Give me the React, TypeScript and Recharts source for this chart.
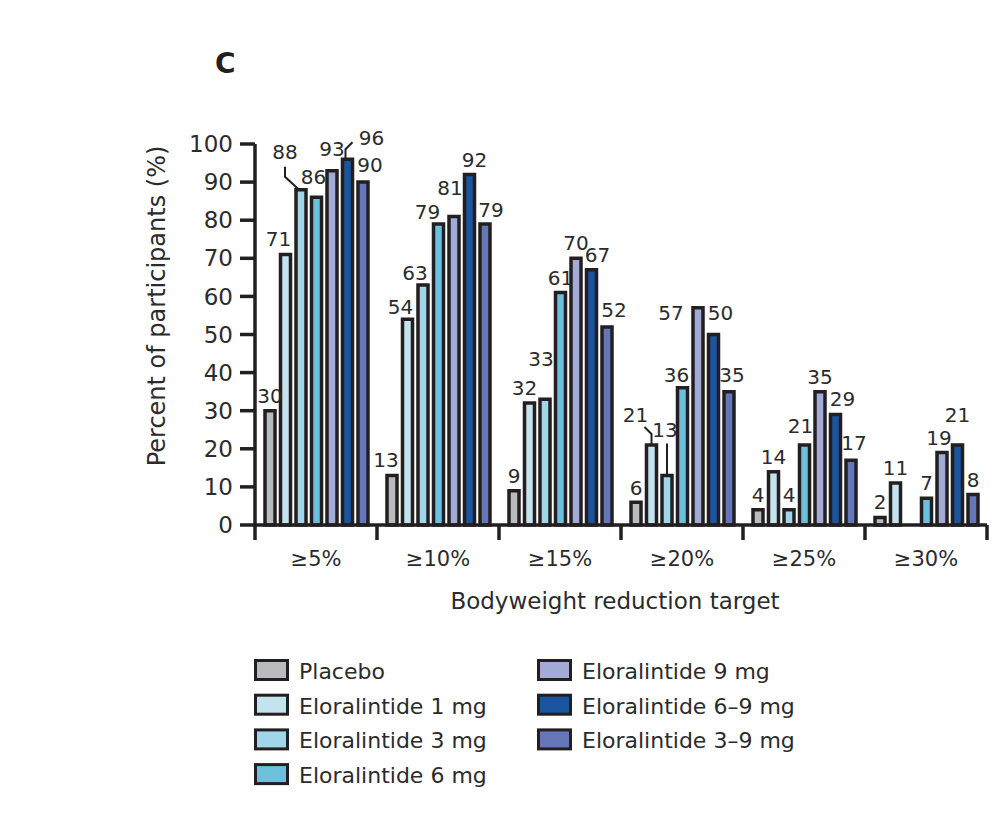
import React from 'react';
import { BarChart, Bar, XAxis, YAxis, LabelList } from 'recharts';

const categories = ['≥5%', '≥10%', '≥15%', '≥20%', '≥25%', '≥30%'];
const placebo = [30, 13, 9, 6, 4, 2];
const elo1 = [71, 54, 32, 21, 14, 11];
const elo3 = [88, 63, 33, 13, 4, 0];
const elo6 = [86, 79, 61, 36, 21, 7];
const elo9 = [93, 81, 70, 57, 35, 19];
const elo69 = [96, 92, 67, 50, 29, 21];
const elo39 = [90, 79, 52, 35, 17, 8];
const yTicks = [0, 10, 20, 30, 40, 50, 60, 70, 80, 90, 100];

const seriesKeys = ['placebo', 'elo1', 'elo3', 'elo6', 'elo9', 'elo69', 'elo39'];
const seriesNames = [
  'Placebo',
  'Eloralintide 1 mg',
  'Eloralintide 3 mg',
  'Eloralintide 6 mg',
  'Eloralintide 9 mg',
  'Eloralintide 6–9 mg',
  'Eloralintide 3–9 mg',
];
const seriesColors = ['#b9bcbf', '#c3e3ef', '#a1d6e8', '#6cc0dc', '#a2aad6', '#1a55a0', '#6677b9'];
const seriesValues = [placebo, elo1, elo3, elo6, elo9, elo69, elo39];

const data = categories.map((c, i) => {
  const row: any = { cat: c };
  seriesKeys.forEach((k, s) => {
    row[k] = seriesValues[s][i];
  });
  return row;
});

const FONT = "'DejaVu Sans', sans-serif";
const INK = '#231f20';
const TEXT = '#2b2b2b';

const CHART_W = 990;
const MARGIN = { top: 136, right: 11, bottom: 0, left: 0 };
const YAXIS_W = 247;
const XAXIS_H = 90;
const PLOT_H = 381;
const CHART_H = MARGIN.top + PLOT_H + XAXIS_H;
const PLOT_W = CHART_W - MARGIN.left - MARGIN.right - YAXIS_W;
const BAND = PLOT_W / categories.length;

// hand-placed label nudges (label layout only)
type Nudge = { dx?: number; dy?: number; leader?: string };
const nudges: Record<string, Nudge> = {
  'elo1-0': { dx: -7 },
  'elo3-0': { dx: -16, dy: -26, leader: 'bendLeft' },
  'elo6-0': { dx: -3, dy: -8 },
  'elo9-0': { dy: -10 },
  'elo69-0': { dx: 24, dy: -9, leader: 'hookRight' },
  'elo39-0': { dx: 7, dy: -5 },
  'placebo-1': { dx: -6 },
  'elo1-1': { dx: -7, dy: 0 },
  'elo3-1': { dx: -8, dy: 0 },
  'elo6-1': { dx: -11, dy: 0 },
  'elo9-1': { dx: -4, dy: -16 },
  'elo69-1': { dx: 5, dy: -2 },
  'elo39-1': { dx: 6, dy: -2 },
  'elo1-2': { dx: -5 },
  'elo3-2': { dx: -4, dy: -28 },
  'elo69-2': { dx: 6 },
  'elo39-2': { dx: 7, dy: -5 },
  'placebo-3': { dy: -2 },
  'elo1-3': { dx: -16, dy: -18, leader: 'hookLeft' },
  'elo3-3': { dx: -2, dy: -33, leader: 'vertical' },
  'elo6-3': { dx: -6, dy: -1 },
  'elo9-3': { dx: -27, dy: 17 },
  'elo69-3': { dx: 7, dy: -10 },
  'elo39-3': { dx: 3, dy: -5 },
  'elo6-4': { dx: -4, dy: -7 },
  'elo69-4': { dx: 7, dy: -4 },
  'elo39-4': { dx: 3, dy: -5 },
  'elo9-5': { dx: -3 },
  'elo69-5': { dy: -18 },
};

const makeLabel = (key: string) => (props: any) => {
  const { x, y, width, value, index } = props;
  const cx = Number(x) + Number(width) / 2;
  const top = Number(y);
  const n = nudges[`${key}-${index}`] || {};
  const lx = cx + (n.dx || 0);
  const ly = top - 5 + (n.dy !== undefined ? n.dy : -3);
  let path = '';
  if (n.leader === 'bendLeft') path = `M${cx - 3},${top - 1} L${lx},${top - 13} L${lx},${ly + 8}`;
  if (n.leader === 'hookRight') path = `M${cx - 2},${top - 1} L${cx - 2},${top - 10} L${cx + 5},${top - 17}`;
  if (n.leader === 'hookLeft') path = `M${cx},${top - 1} L${cx},${top - 11} L${cx - 7},${top - 18}`;
  if (n.leader === 'vertical') path = `M${cx},${top - 1} L${cx},${ly + 6}`;
  return (
    <g>
      {path && <path d={path} stroke={INK} strokeWidth={2} fill="none" />}
      <text x={lx} y={ly} textAnchor="middle" fontFamily={FONT} fontSize={20} fill={TEXT}>
        {value}
      </text>
    </g>
  );
};

const XTick = (props: any) => {
  const { x, y, payload, index } = props;
  const left = x - BAND / 2;
  const right = x + BAND / 2;
  return (
    <g>
      <line x1={left} y1={y} x2={left} y2={y + 15} stroke={INK} strokeWidth={3.5} />
      {index === categories.length - 1 && (
        <line x1={right} y1={y} x2={right} y2={y + 15} stroke={INK} strokeWidth={3.5} />
      )}
      <text x={x} y={y + 41} textAnchor="middle" fontFamily={FONT} fontSize={21} fill={TEXT}>
        {payload.value}
      </text>
    </g>
  );
};

const legendCols = [
  [0, 1, 2, 3],
  [4, 5, 6],
];
const legendColX = [246, 529];
const ROW_Y0 = 651;
const ROW_STEP = 34.7;

export default function App() {
  return (
    <div style={{ position: 'relative', width: CHART_W, height: 830 }}>
      <BarChart
        width={CHART_W}
        height={CHART_H}
        data={data}
        margin={MARGIN}
        barSize={10}
        barGap={5.5}
      >
        <XAxis
          dataKey="cat"
          height={XAXIS_H}
          axisLine={{ stroke: INK, strokeWidth: 3.5 }}
          tickLine={false}
          tickSize={0}
          tickMargin={0}
          tick={<XTick />}
          interval={0}
        />
        <YAxis
          width={YAXIS_W}
          domain={[0, 100]}
          ticks={yTicks}
          interval={0}
          axisLine={{ stroke: INK, strokeWidth: 3.5 }}
          tickLine={{ stroke: INK, strokeWidth: 3.5 }}
          tickSize={15}
          tickMargin={7}
          tick={{ fontFamily: FONT, fontSize: 23, fill: TEXT }}
        />
        {seriesKeys.map((k, s) => (
          <Bar
            key={k}
            dataKey={k}
            name={seriesNames[s]}
            fill={seriesColors[s]}
            stroke={INK}
            strokeWidth={3.5}
            isAnimationActive={false}
          >
            <LabelList dataKey={k} content={makeLabel(k)} />
          </Bar>
        ))}
      </BarChart>
      <svg
        width={CHART_W}
        height={830}
        style={{ position: 'absolute', left: 0, top: 0, pointerEvents: 'none' }}
      >
        <text x={207} y={65} fontFamily={FONT} fontSize={28} fontWeight={700} fill={INK}>
          C
        </text>
        <text
          x={0}
          y={0}
          transform={`translate(157,298) rotate(-90)`}
          textAnchor="middle"
          fontFamily={FONT}
          fontSize={24}
          fill={TEXT}
        >
          Percent of participants (%)
        </text>
        <text x={607} y={601} textAnchor="middle" fontFamily={FONT} fontSize={23} fill={TEXT}>
          Bodyweight reduction target
        </text>
        {legendCols.map((col, ci) =>
          col.map((s, ri) => {
            const y = ROW_Y0 + ri * ROW_STEP;
            const x = legendColX[ci];
            return (
              <g key={`lg-${s}`}>
                <rect
                  x={x + 1.5}
                  y={y + 1.5}
                  width={32}
                  height={19}
                  fill={seriesColors[s]}
                  stroke={INK}
                  strokeWidth={3}
                />
                <text x={x + 45} y={y + 20} fontFamily={FONT} fontSize={22} fill={TEXT}>
                  {seriesNames[s]}
                </text>
              </g>
            );
          })
        )}
      </svg>
    </div>
  );
}
